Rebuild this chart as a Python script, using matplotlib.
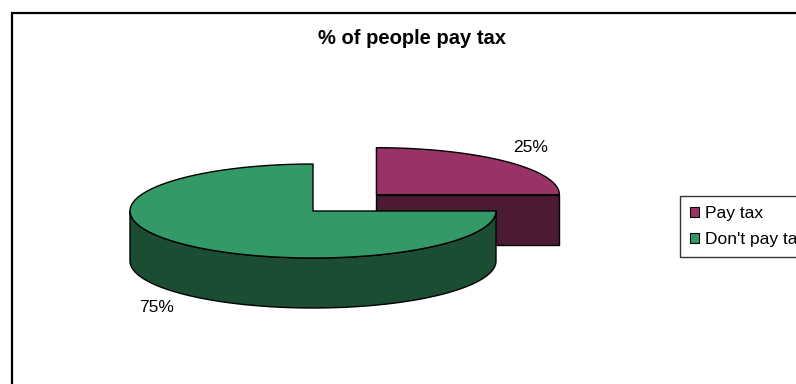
import numpy as np
import matplotlib.pyplot as plt
from matplotlib.patches import Polygon, Rectangle, Patch

plt.rcParams['font.family'] = ['Liberation Sans', 'DejaVu Sans']

labels = ["Pay tax", "Don't pay tax"]
shares = [25, 75]
top_colors = ["#993366", "#339966"]
side_colors = ["#4d1a33", "#1b4d33"]
explode = [0.49, 0.0]

# pie geometry in pixel units (y grows downward)
cx, cy = 313, 211
rx, ry = 183, 47
depth = 50

fig = plt.figure(figsize=(7.96, 3.84), dpi=100)
ax = fig.add_axes([0, 0, 1, 1])
ax.set_xlim(0, 796)
ax.set_ylim(384, 0)
ax.axis('off')


def pt(a, ox, oy, dz=0):
    r = np.radians(a)
    return ox + rx * np.cos(r), oy - ry * np.sin(r) + dz


# slices start at 12 o'clock and run clockwise
total = sum(shares)
bounds = []
acc = 0
for s in shares:
    a1 = 90 - acc / total * 360
    a0 = 90 - (acc + s) / total * 360
    bounds.append((a0, a1))
    acc += s

order = sorted(range(len(shares)),
               key=lambda i: np.sin(np.radians(sum(bounds[i]) / 2)) * explode[i],
               reverse=True)

for i in order:
    a0, a1 = bounds[i]
    mid = np.radians((a0 + a1) / 2)
    ox = cx + explode[i] * rx * np.cos(mid)
    oy = cy - explode[i] * ry * np.sin(mid)
    kw = dict(edgecolor='black', linewidth=1.0, joinstyle='round')

    # radial cut faces seen from the front
    for a, visible in ((a0, np.cos(np.radians(a0)) > 1e-9),
                       (a1, np.cos(np.radians(a1)) < -1e-9)):
        if visible:
            px, py = pt(a, ox, oy)
            ax.add_patch(Polygon([(ox, oy), (px, py), (px, py + depth), (ox, oy + depth)],
                                 facecolor=side_colors[i], **kw))

    # outer wall on the front half
    lo, hi = a0 % 360, a0 % 360 + (a1 - a0)
    segs = []
    for k in range(-1, 2):
        s0, s1 = max(lo, 180 + 360 * k), min(hi, 360 + 360 * k)
        if s1 > s0:
            segs.append((s0, s1))
    for s0, s1 in segs:
        ang = np.linspace(s0, s1, 120)
        upper = [pt(a, ox, oy) for a in ang]
        lower = [pt(a, ox, oy, depth) for a in ang[::-1]]
        ax.add_patch(Polygon(upper + lower, facecolor=side_colors[i], **kw))

    # top face
    ang = np.linspace(a0, a1, 200)
    top = [(ox, oy)] + [pt(a, ox, oy) for a in ang]
    ax.add_patch(Polygon(top, facecolor=top_colors[i], **kw))

# percentage labels
ax.text(531, 148, f"{shares[0]}%", ha='center', va='center', fontsize=12.5)
ax.text(157, 307, f"{shares[1]}%", ha='center', va='center', fontsize=12.5)

ax.text(412, 39, "% of people pay tax", ha='center', va='center',
        fontsize=14.5, fontweight='bold')

# chart border, running off the right and bottom edges
fig.patches.append(Rectangle((12.5 / 796, -0.1), 1.0, 1 - 12.5 / 384 + 0.1,
                             transform=fig.transFigure, fill=False,
                             edgecolor='black', linewidth=1.6))

# legend box is wider than the figure, so its right side runs off the edge
handles = [Patch(facecolor=c, edgecolor='black', linewidth=0.8) for c in top_colors]
leg = fig.legend(handles, labels, loc='upper left',
                 bbox_to_anchor=(680 / 796, 1 - 196 / 384),
                 fontsize=12.5, frameon=True, fancybox=False, shadow=False,
                 handlelength=0.5, handleheight=0.5, handletextpad=0.35,
                 borderpad=0.6, labelspacing=0.6, borderaxespad=0)
leg.get_frame().set_edgecolor('black')
leg.get_frame().set_linewidth(1.0)

fig.savefig('out.png', dpi=100)
